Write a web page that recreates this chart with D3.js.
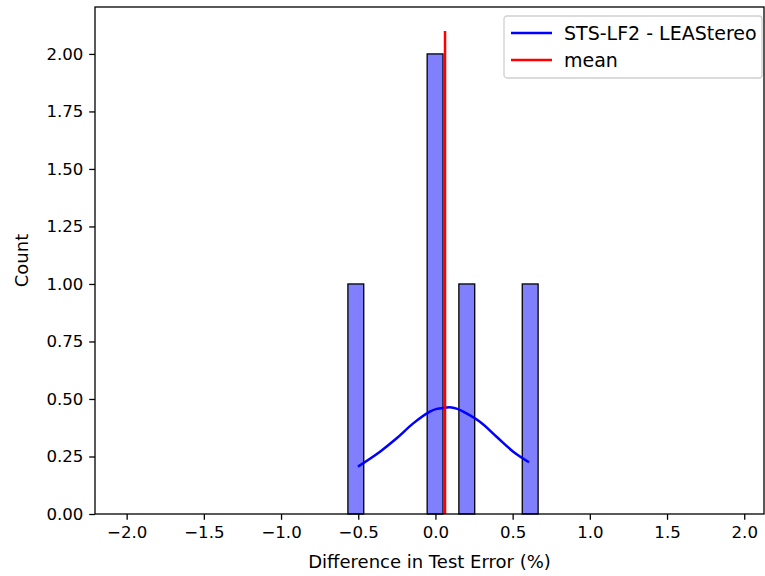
<!DOCTYPE html>
<html>
<head>
<meta charset="utf-8">
<script src="https://cdn.jsdelivr.net/npm/d3@7"></script>
<style>
    body { margin: 0; background: #fff; }
    text { font-family: "DejaVu Sans", sans-serif; }
</style>
</head>
<body>
<svg id="vis_svg"></svg>
<script>
// Data
let binStart = -0.567;
let binEnd = 0.665;
let binCounts = [1, 0, 0, 0, 0, 2, 0, 1, 0, 0, 0, 1];
let meanValue = 0.062;
let meanTop = 2.1;
let kdeX = [-0.502, -0.359, -0.251, -0.144, -0.036, 0.008, 0.062, 0.094, 0.137, 0.180, 0.288, 0.396, 0.504, 0.606];
let kdeY = [0.206, 0.271, 0.329, 0.394, 0.445, 0.457, 0.462, 0.464, 0.458, 0.445, 0.401, 0.336, 0.271, 0.225];
let xTicks = [-2.0, -1.5, -1.0, -0.5, 0.0, 0.5, 1.0, 1.5, 2.0];
let yTicks = [0, 0.25, 0.5, 0.75, 1.0, 1.25, 1.5, 1.75, 2.0];
let xDomain = [-2.205, 2.128];
let yDomain = [0, 2.204];
let legendLabels = ['STS-LF2 - LEAStereo', 'mean'];
let legendColors = ['blue', 'red'];

let config = {
    'svg': { 'width': 765, 'height': 576 },
    'plot': { 'left': 95, 'right': 764, 'top': 7, 'bottom': 514 },
    'font': { 'tick': 16.6, 'label': 18, 'legend': 19 }
};

let svg = d3.select('#vis_svg')
    .attr('width', config.svg.width)
    .attr('height', config.svg.height);

let x = d3.scaleLinear().domain(xDomain).range([config.plot.left, config.plot.right]);
let y = d3.scaleLinear().domain(yDomain).range([config.plot.bottom, config.plot.top]);

// Histogram bars
let binWidth = (binEnd - binStart) / binCounts.length;
let bins = binCounts.map((c, i) => ({ x0: binStart + i * binWidth, x1: binStart + (i + 1) * binWidth, count: c }))
    .filter(d => d.count > 0);

svg.append('g')
    .selectAll('rect')
    .data(bins)
    .join('rect')
    .attr('x', d => x(d.x0))
    .attr('y', d => y(d.count))
    .attr('width', d => x(d.x1) - x(d.x0))
    .attr('height', d => y(0) - y(d.count))
    .style('fill', '#8080ff')
    .style('stroke', '#000')
    .style('stroke-width', 1.3);

// KDE line
let kdeLine = d3.line()
    .x(d => x(d[0]))
    .y(d => y(d[1]))
    .curve(d3.curveCatmullRom);

svg.append('path')
    .datum(kdeX.map((v, i) => [v, kdeY[i]]))
    .attr('d', kdeLine)
    .style('fill', 'none')
    .style('stroke', 'blue')
    .style('stroke-width', 2.5);

// Mean line
svg.append('line')
    .attr('x1', x(meanValue)).attr('x2', x(meanValue))
    .attr('y1', y(0)).attr('y2', y(meanTop))
    .style('stroke', 'red')
    .style('stroke-width', 2.5);

// Axes
let xAxis = d3.axisBottom(x)
    .tickValues(xTicks)
    .tickFormat(d3.format('.1f'))
    .tickSizeInner(5.8)
    .tickSizeOuter(0)
    .tickPadding(6.5);

let yAxis = d3.axisLeft(y)
    .tickValues(yTicks)
    .tickFormat(d3.format('.2f'))
    .tickSizeInner(5.8)
    .tickSizeOuter(0)
    .tickPadding(5.8);

let xg = svg.append('g')
    .attr('transform', translate(0, config.plot.bottom))
    .call(xAxis);
let yg = svg.append('g')
    .attr('transform', translate(config.plot.left, 0))
    .call(yAxis);

[xg, yg].forEach(g => {
    g.select('.domain').remove();
    g.selectAll('.tick line').style('stroke', '#000').style('stroke-width', 1.3);
    g.selectAll('.tick text')
        .style('font-family', '"DejaVu Sans", sans-serif')
        .style('font-size', config.font.tick + 'px')
        .style('fill', '#000');
});

// Spines
svg.append('rect')
    .attr('x', config.plot.left)
    .attr('y', config.plot.top)
    .attr('width', config.plot.right - config.plot.left)
    .attr('height', config.plot.bottom - config.plot.top)
    .style('fill', 'none')
    .style('stroke', '#000')
    .style('stroke-width', 1.3);

// Axis labels
svg.append('text')
    .attr('x', (config.plot.left + config.plot.right) / 2)
    .attr('y', 568)
    .attr('text-anchor', 'middle')
    .style('font-size', config.font.label + 'px')
    .text('Difference in Test Error (%)');

svg.append('text')
    .attr('transform', translate(28, (config.plot.top + config.plot.bottom) / 2) + ' rotate(-90)')
    .attr('text-anchor', 'middle')
    .style('font-size', config.font.label + 'px')
    .text('Count');

// Legend
let legend = svg.append('g').attr('transform', translate(504, 16));
legend.append('rect')
    .attr('width', 258)
    .attr('height', 62)
    .attr('rx', 3)
    .style('fill', '#fff')
    .style('fill-opacity', 0.8)
    .style('stroke', '#d0d0d0')
    .style('stroke-width', 1.3);

legendLabels.forEach((label, i) => {
    let row = legend.append('g').attr('transform', translate(0, 17 + i * 27));
    row.append('line')
        .attr('x1', 7).attr('x2', 48)
        .style('stroke', legendColors[i])
        .style('stroke-width', 2.5);
    row.append('text')
        .attr('x', 60)
        .attr('y', 7)
        .style('font-size', config.font.legend + 'px')
        .text(label);
});

function translate(x, y) {
    return 'translate(' + x + ',' + y + ')';
}
</script>
</body>
</html>
